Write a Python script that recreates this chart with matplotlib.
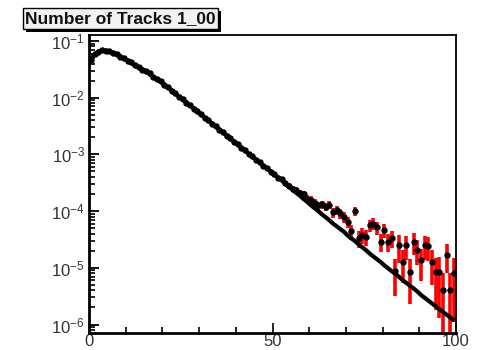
import numpy as np
import matplotlib
matplotlib.use("Agg")
import matplotlib.pyplot as plt
from matplotlib.patches import Rectangle
from matplotlib.ticker import LogLocator, FixedLocator, NullFormatter

plt.rcParams['font.family'] = ['Liberation Sans', 'DejaVu Sans']
plt.rcParams['mathtext.fontset'] = 'custom'
plt.rcParams['mathtext.rm'] = 'Liberation Sans'
plt.rcParams['mathtext.it'] = 'Liberation Sans'

title = "Number of Tracks 1_00"

# bin centers 0.5 ... 99.5
n_bins = 100
x_min, x_max = 0, 100

mc = [4.7e-2, 5.8e-2, 6.5e-2, 6.8e-2, 6.8e-2, 6.5e-2, 6.2e-2, 5.8e-2, 5.4e-2, 4.9e-2,
      4.5e-2, 4.1e-2, 3.7e-2, 3.4e-2, 3.2e-2, 2.9e-2, 2.6e-2, 2.3e-2, 2.1e-2, 1.9e-2,
      1.7e-2, 1.5e-2, 1.35e-2, 1.17e-2, 1.05e-2, 9.3e-3, 8.3e-3, 7.2e-3, 6.5e-3, 5.8e-3,
      5.0e-3, 4.5e-3, 4.0e-3, 3.5e-3, 3.1e-3, 2.75e-3, 2.45e-3, 2.14e-3, 1.91e-3, 1.70e-3,
      1.48e-3, 1.32e-3, 1.17e-3, 1.02e-3, 9.1e-4, 8.1e-4, 7.2e-4, 6.3e-4, 5.6e-4, 5.0e-4,
      4.4e-4, 3.9e-4, 3.5e-4, 3.0e-4, 2.7e-4, 2.34e-4, 2.09e-4, 1.86e-4, 1.62e-4, 1.45e-4,
      1.26e-4, 1.12e-4, 1.0e-4, 8.7e-5, 7.8e-5, 6.9e-5, 6.0e-5, 5.4e-5, 4.8e-5, 4.3e-5,
      3.7e-5, 3.3e-5, 2.95e-5, 2.57e-5, 2.29e-5, 2.04e-5, 1.78e-5, 1.58e-5, 1.41e-5, 1.26e-5,
      1.10e-5, 9.8e-6, 8.7e-6, 7.8e-6, 6.9e-6, 6.0e-6, 5.4e-6, 4.8e-6, 4.3e-6, 3.8e-6,
      3.3e-6, 2.95e-6, 2.63e-6, 2.34e-6, 2.09e-6, 1.86e-6, 1.66e-6, 1.48e-6, 1.32e-6, 1.17e-6]

data = [4.6e-2, 5.9e-2, 6.4e-2, 6.9e-2, 6.7e-2, 6.6e-2, 6.1e-2, 5.9e-2, 5.3e-2, 5.0e-2,
        4.4e-2, 4.2e-2, 3.7e-2, 3.5e-2, 3.1e-2, 2.9e-2, 2.7e-2, 2.3e-2, 2.1e-2, 1.95e-2,
        1.68e-2, 1.52e-2, 1.33e-2, 1.2e-2, 1.03e-2, 9.5e-3, 8.1e-3, 7.4e-3, 6.4e-3, 5.9e-3,
        5.1e-3, 4.4e-3, 4.1e-3, 3.5e-3, 3.2e-3, 2.7e-3, 2.5e-3, 2.1e-3, 1.95e-3, 1.68e-3,
        1.52e-3, 1.3e-3, 1.2e-3, 1.0e-3, 9.4e-4, 8.0e-4, 7.4e-4, 6.2e-4, 5.8e-4, 4.9e-4,
        4.6e-4, 3.8e-4, 3.7e-4, 3.1e-4, 2.8e-4, 2.5e-4, 2.4e-4, 2.1e-4, 2.0e-4, 1.66e-4,
        1.6e-4, 1.4e-4, 1.26e-4, 1.32e-4, 1.2e-4, 1.29e-4, 9.5e-5, 1.05e-4, 9.1e-5, 7.9e-5,
        6.5e-5, 4.4e-5, 1.0e-4, 3.3e-5, 3.8e-5, 3.5e-5, 5.6e-5, 6.0e-5, 5.2e-5, 2.9e-5,
        4.7e-5, 2.9e-5, 3.3e-5, 8.7e-6, 2.5e-5, 1.29e-5, 2.5e-5, 8.3e-6, 2.9e-5, 2.1e-5,
        1.38e-5, 2.5e-5, 2.4e-5, 1.29e-5, 8.3e-6, 8.3e-6, 4.1e-6, 1.7e-5, 4.1e-6, 8.1e-6]

data_err = [4.1e-4, 4.5e-4, 4.8e-4, 4.9e-4, 4.9e-4, 4.8e-4, 4.7e-4, 4.5e-4, 4.3e-4, 4.1e-4,
            4.0e-4, 3.8e-4, 3.6e-4, 3.4e-4, 3.3e-4, 3.2e-4, 3.0e-4, 2.8e-4, 2.7e-4, 2.6e-4,
            2.4e-4, 2.3e-4, 2.2e-4, 2.0e-4, 1.9e-4, 1.8e-4, 1.7e-4, 1.6e-4, 1.5e-4, 1.4e-4,
            1.3e-4, 1.25e-4, 1.2e-4, 1.1e-4, 1.04e-4, 9.8e-5, 9.3e-5, 8.7e-5, 8.2e-5, 7.7e-5,
            7.2e-5, 6.8e-5, 6.4e-5, 6.0e-5, 5.6e-5, 5.3e-5, 5.0e-5, 4.7e-5, 4.4e-5, 4.2e-5,
            3.9e-5, 3.7e-5, 3.5e-5, 3.2e-5, 3.1e-5, 3.0e-5, 2.9e-5, 2.7e-5, 2.6e-5, 2.4e-5,
            2.4e-5, 2.2e-5, 2.1e-5, 2.1e-5, 2.0e-5, 2.1e-5, 1.8e-5, 1.9e-5, 1.8e-5, 1.7e-5,
            1.5e-5, 1.25e-5, 1.9e-5, 1.1e-5, 1.15e-5, 1.1e-5, 1.4e-5, 1.45e-5, 1.35e-5, 1.0e-5,
            1.3e-5, 1.0e-5, 1.1e-5, 5.5e-6, 1.3e-5, 7.5e-6, 1.1e-5, 6.0e-6, 1.2e-5, 1.0e-5,
            8.0e-6, 1.1e-5, 1.1e-5, 8.0e-6, 6.5e-6, 7.0e-6, 4.0e-6, 9.0e-6, 4.0e-6, 7.0e-6]

x_ticks_major = [0, 50, 100]
x_tick_labels = ["0", "50", "100"]
y_lim = (7.2e-7, 0.13)

W, H = 484, 350
fig = plt.figure(figsize=(W / 100, H / 100), dpi=100)
fig.patch.set_facecolor('white')

ax_l, ax_r, ax_t, ax_b = 89, 456, 34.5, 332.6
ax = fig.add_axes([ax_l / W, 1 - ax_b / H, (ax_r - ax_l) / W, (ax_b - ax_t) / H])

centers = np.arange(n_bins) + 0.5
data_arr = np.array(data)
err_arr = np.array(data_err)
lower = np.minimum(err_arr, data_arr - 1e-9)

ax.errorbar(centers, data_arr, yerr=[lower, err_arr], fmt='none',
            ecolor='#ff0000', elinewidth=2.6, capsize=0, zorder=2)
ax.plot(centers, mc, color='black', lw=3.0, zorder=3, solid_capstyle='butt')
ax.plot(centers, data_arr, linestyle='none', marker='o', ms=3.6,
        color='black', zorder=4)

ax.set_yscale('log')
ax.set_xlim(x_min, x_max)

ax.xaxis.set_major_locator(FixedLocator(x_ticks_major))
ax.set_xticklabels(x_tick_labels)
ax.xaxis.set_minor_locator(FixedLocator(list(range(0, 101, 10))))
ax.yaxis.set_minor_locator(LogLocator(base=10, subs=np.arange(2, 10), numticks=20))
ax.yaxis.set_minor_formatter(NullFormatter())
ax.set_yticks([1e-6, 1e-5, 1e-4, 1e-3, 1e-2, 1e-1])
ax.set_yticklabels([r'$10^{-6}$', r'$10^{-5}$', r'$10^{-4}$', r'$10^{-3}$',
                    r'$10^{-2}$', r'$10^{-1}$'])
ax.set_ylim(*y_lim)

ax.tick_params(axis='x', which='major', direction='in', length=7, width=1.2,
               labelsize=12, pad=1, labelcolor='#333333', top=False)
ax.tick_params(axis='x', which='minor', direction='in', length=4, width=1.2, top=False)
ax.tick_params(axis='y', which='major', direction='in', length=7.5, width=1.3,
               labelsize=12, pad=3, labelcolor='#333333', right=False)
ax.tick_params(axis='y', which='minor', direction='in', length=4.5, width=1.2, right=False)

for s in ax.spines.values():
    s.set_linewidth(1.3)
    s.set_color('black')
ax.spines['left'].set_linewidth(2.0)
ax.spines['bottom'].set_linewidth(2.0)

# title box with shadow
bx0, bx1, by0, by1 = 23, 218, 8, 29
shadow = Rectangle(((bx0 + 2.5) / W, 1 - (by1 + 2.5) / H), (bx1 - bx0) / W, (by1 - by0) / H,
                   transform=fig.transFigure, facecolor='black', edgecolor='none', zorder=5)
box = Rectangle((bx0 / W, 1 - by1 / H), (bx1 - bx0) / W, (by1 - by0) / H,
                transform=fig.transFigure, facecolor='#f2f2f2', edgecolor='black',
                lw=1.0, zorder=6)
fig.add_artist(shadow)
fig.add_artist(box)
fig.text((bx0 + bx1) / 2 / W, 1 - (by0 + by1) / 2 / H, title, ha='center', va='center',
         fontsize=12.5, fontweight='bold', color='#111111', zorder=7)

fig.savefig('out.png', dpi=100)
